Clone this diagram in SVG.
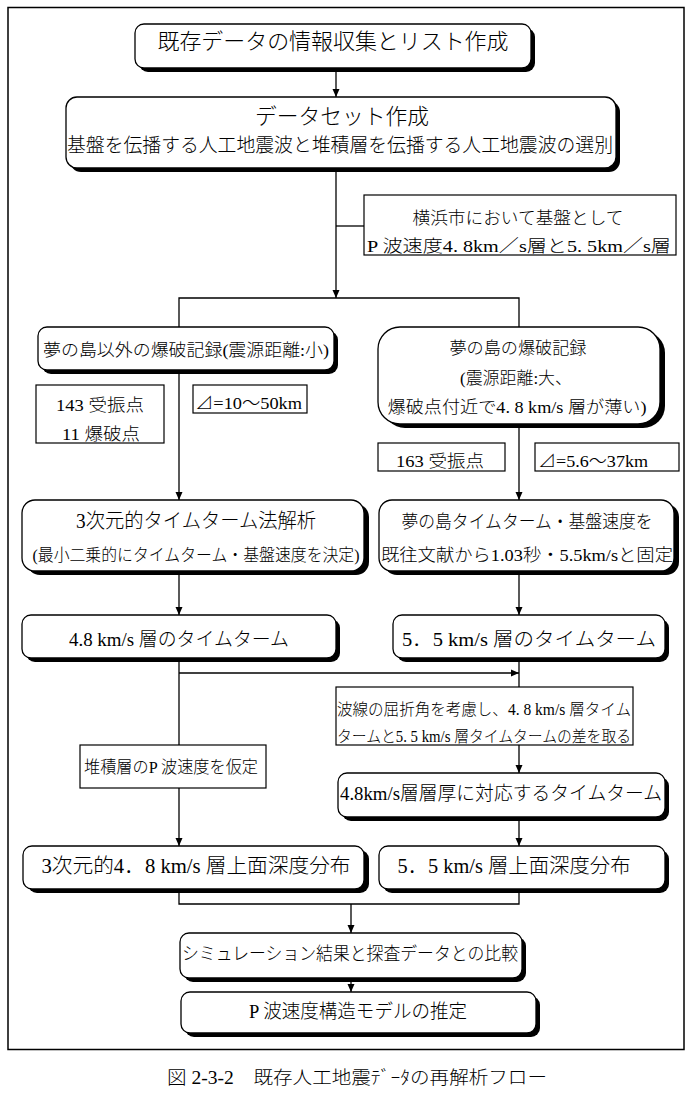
<svg xmlns="http://www.w3.org/2000/svg" width="693" height="1099" viewBox="0 0 693 1099">
<style>
.t{font-family:"Liberation Serif","Noto Sans CJK JP",serif;font-weight:300;fill:#000;text-anchor:middle}
.s{text-anchor:start}
.box{fill:#fff;stroke:#000;stroke-width:1.3}
.sh{fill:#000}
.pl{fill:#fff;stroke:#000;stroke-width:1.2}
.ln{fill:none;stroke:#000;stroke-width:1.3}
.ar{fill:none;stroke:#000;stroke-width:1.3;marker-end:url(#ah)}
</style>
<defs>
<marker id="ah" markerUnits="userSpaceOnUse" markerWidth="8" markerHeight="10" refX="8" refY="4" orient="auto" viewBox="0 0 8 8">
<path d="M0,0.5 L8,4 L0,7.5 z" fill="#000"/>
</marker>
</defs>
<rect x="0" y="0" width="693" height="1099" fill="#fff"/>
<rect id="frame" x="8" y="7.5" width="676" height="1042" fill="none" stroke="#000" stroke-width="1.5"/>

<g id="connectors">
<path class="ar" d="M336,68 V97"/>
<path class="ar" d="M336,172 V298"/>
<path class="ln" d="M336,226 H364"/>
<path class="ln" d="M179,327 V298 H519 V327"/>
<path class="ar" d="M179,374 V500"/>
<path class="ar" d="M519,428 V500"/>
<path class="ar" d="M179,575 V615"/>
<path class="ar" d="M519,575 V615"/>
<path class="ln" d="M179,662 V745"/>
<path class="ar" d="M179,788 V846"/>
<path class="ar" d="M179,673 H519"/>
<path class="ln" d="M519,662 V687"/>
<path class="ar" d="M519,745 V773"/>
<path class="ar" d="M519,821 V846"/>
<path class="ln" d="M179,893 V904 H519 V893"/>
<path class="ar" d="M351,904 V933"/>
<path class="ar" d="M351,982 V992"/>
</g>

<g id="n1">
<rect class="sh" x="139" y="28" width="396" height="44" rx="9"/>
<rect class="box" x="135" y="24" width="396" height="44" rx="9"/>
<text class="t" x="333" y="49" font-size="22" textLength="351" lengthAdjust="spacingAndGlyphs">既存データの情報収集とリスト作成</text>
</g>
<g id="n2">
<rect class="sh" x="70" y="101" width="550" height="71" rx="11"/>
<rect class="box" x="66" y="97" width="550" height="71" rx="11"/>
<text class="t" x="342" y="124" font-size="22" textLength="174" lengthAdjust="spacingAndGlyphs">データセット作成</text>
<text class="t" x="340" y="152" font-size="19.5" textLength="546" lengthAdjust="spacingAndGlyphs">基盤を伝播する人工地震波と堆積層を伝播する人工地震波の選別</text>
</g>
<g id="n3">
<rect class="pl" x="364" y="195" width="312" height="60"/>
<text class="t" x="518" y="224" font-size="17.5" textLength="211" lengthAdjust="spacingAndGlyphs">横浜市において基盤として</text>
<text class="t" x="519" y="252" font-size="17.5" textLength="304" lengthAdjust="spacingAndGlyphs">P 波速度4. 8km／s層と5. 5km／s層</text>
</g>
<g id="n4">
<rect class="sh" x="42" y="331" width="296" height="43" rx="9"/>
<rect class="box" x="38" y="327" width="296" height="43" rx="9"/>
<text class="t" x="186" y="356" font-size="17" textLength="286" lengthAdjust="spacingAndGlyphs">夢の島以外の爆破記録(震源距離:小)</text>
</g>
<g id="n5">
<rect class="sh" x="383" y="331" width="282" height="97" rx="22"/>
<rect class="box" x="378" y="327" width="282" height="97" rx="22"/>
<text class="t" x="518" y="354" font-size="17" textLength="137" lengthAdjust="spacingAndGlyphs">夢の島の爆破記録</text>
<text class="t s" x="460" y="384" font-size="17" textLength="112" lengthAdjust="spacingAndGlyphs">(震源距離:大、</text>
<text class="t" x="517" y="413" font-size="17" textLength="259" lengthAdjust="spacingAndGlyphs">爆破点付近で4. 8 km/s 層が薄い)</text>
</g>
<g id="n6">
<rect class="pl" x="36" y="385" width="128" height="58"/>
<text class="t" x="100" y="411" font-size="17" textLength="88" lengthAdjust="spacingAndGlyphs">143 受振点</text>
<text class="t" x="101" y="440" font-size="17" textLength="78" lengthAdjust="spacingAndGlyphs">11 爆破点</text>
</g>
<g id="n7">
<rect class="pl" x="193" y="385" width="114" height="28"/>
<text class="t s" x="195" y="409" font-size="17" textLength="107" lengthAdjust="spacingAndGlyphs">⊿=10～50km</text>
</g>
<g id="n8">
<rect class="pl" x="378" y="443" width="127" height="28"/>
<text class="t" x="440" y="467" font-size="17" textLength="88" lengthAdjust="spacingAndGlyphs">163 受振点</text>
</g>
<g id="n9">
<rect class="pl" x="535" y="443" width="144" height="28"/>
<text class="t s" x="538" y="467" font-size="17" textLength="110" lengthAdjust="spacingAndGlyphs">⊿=5.6～37km</text>
</g>
<g id="n10">
<rect class="sh" x="27" y="504" width="342" height="71" rx="13"/>
<rect class="box" x="22" y="500" width="342" height="71" rx="13"/>
<text class="t" x="196" y="528" font-size="20" textLength="240" lengthAdjust="spacingAndGlyphs">3次元的タイムターム法解析</text>
<text class="t" x="196" y="561" font-size="16.5" textLength="327" lengthAdjust="spacingAndGlyphs">(最小二乗的にタイムターム・基盤速度を決定)</text>
</g>
<g id="n11">
<rect class="sh" x="384" y="504" width="295" height="71" rx="13"/>
<rect class="box" x="379" y="500" width="295" height="71" rx="13"/>
<text class="t" x="527" y="528" font-size="18.5" textLength="251" lengthAdjust="spacingAndGlyphs">夢の島タイムターム・基盤速度を</text>
<text class="t" x="527" y="561" font-size="17.5" textLength="292" lengthAdjust="spacingAndGlyphs">既往文献から1.03秒・5.5km/sと固定</text>
</g>
<g id="n12">
<rect class="sh" x="26" y="619" width="314" height="43" rx="9"/>
<rect class="box" x="22" y="615" width="314" height="43" rx="9"/>
<text class="t" x="179" y="646" font-size="19" textLength="220" lengthAdjust="spacingAndGlyphs">4.8 km/s 層のタイムターム</text>
</g>
<g id="n13">
<rect class="sh" x="397" y="619" width="272" height="43" rx="9"/>
<rect class="box" x="393" y="615" width="272" height="43" rx="9"/>
<text class="t" x="529" y="646" font-size="19" textLength="254" lengthAdjust="spacingAndGlyphs">5．5 km/s 層のタイムターム</text>
</g>
<g id="n14">
<rect class="pl" x="336" y="687" width="297" height="58"/>
<text class="t" x="484" y="715" font-size="16" textLength="294" lengthAdjust="spacingAndGlyphs">波線の屈折角を考慮し、4. 8 km/s 層タイム</text>
<text class="t" x="484" y="742" font-size="16" textLength="294" lengthAdjust="spacingAndGlyphs">タームと5. 5 km/s 層タイムタームの差を取る</text>
</g>
<g id="n15">
<rect class="pl" x="80" y="745" width="186" height="43"/>
<text class="t" x="171" y="773" font-size="17" textLength="174" lengthAdjust="spacingAndGlyphs">堆積層のP 波速度を仮定</text>
</g>
<g id="n16">
<rect class="sh" x="342" y="777" width="327" height="44" rx="9"/>
<rect class="box" x="338" y="773" width="327" height="44" rx="9"/>
<text class="t" x="501" y="800" font-size="19" textLength="322" lengthAdjust="spacingAndGlyphs">4.8km/s層層厚に対応するタイムターム</text>
</g>
<g id="n17">
<rect class="sh" x="28" y="850" width="341" height="43" rx="9"/>
<rect class="box" x="23" y="846" width="341" height="43" rx="9"/>
<text class="t" x="196" y="873" font-size="20" textLength="309" lengthAdjust="spacingAndGlyphs">3次元的4．8 km/s 層上面深度分布</text>
</g>
<g id="n18">
<rect class="sh" x="383" y="850" width="286" height="43" rx="9"/>
<rect class="box" x="379" y="846" width="286" height="43" rx="9"/>
<text class="t" x="514" y="873" font-size="20" textLength="233" lengthAdjust="spacingAndGlyphs">5．5 km/s 層上面深度分布</text>
</g>
<g id="n19">
<rect class="sh" x="184" y="937" width="342" height="45" rx="9"/>
<rect class="box" x="180" y="933" width="342" height="45" rx="9"/>
<text class="t" x="350" y="960" font-size="18" textLength="336" lengthAdjust="spacingAndGlyphs">シミュレーション結果と探査データとの比較</text>
</g>
<g id="n20">
<rect class="sh" x="185" y="996" width="355" height="41" rx="9"/>
<rect class="box" x="181" y="992" width="355" height="41" rx="9"/>
<text class="t" x="358" y="1018" font-size="19" textLength="218" lengthAdjust="spacingAndGlyphs">P 波速度構造モデルの推定</text>
</g>
<g id="caption">
<text class="t s" x="167" y="1084" font-size="18" textLength="380" lengthAdjust="spacingAndGlyphs">図 2-3-2　既存人工地震ﾃﾞｰﾀの再解析フロー</text>
</g>
</svg>
